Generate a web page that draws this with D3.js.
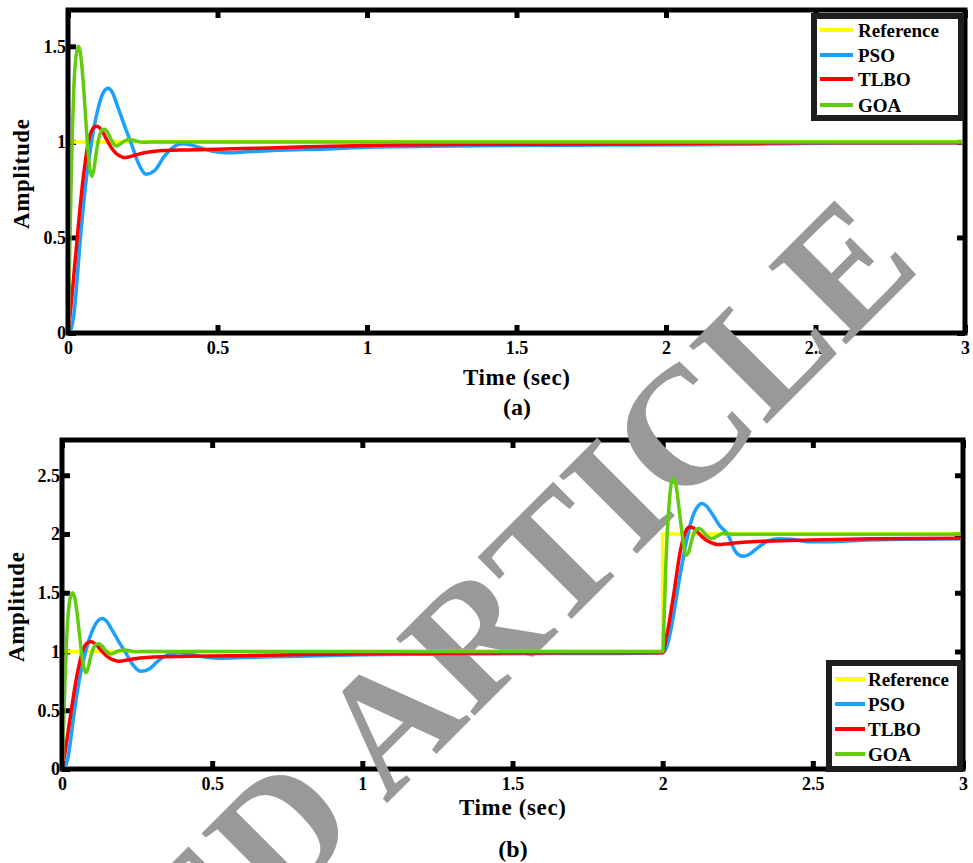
<!DOCTYPE html>
<html>
<head>
<meta charset="utf-8">
<script src="https://cdn.jsdelivr.net/npm/d3@7"></script>
<style>
  body { margin: 0; background: #fff; }
  text { font-family: "Liberation Serif", "Times New Roman", serif; font-weight: bold; }
</style>
</head>
<body>
<div id="chart"></div>
<script>
// tick values
var xTicks = [0, 0.5, 1, 1.5, 2, 2.5, 3];
var yTicksA = [0, 0.5, 1, 1.5];
var yTicksB = [0, 0.5, 1, 1.5, 2, 2.5];

var seriesNames = ["Reference", "PSO", "TLBO", "GOA"];
var seriesColors = ["#ffff00", "#1aa0ff", "#ff0000", "#62cc10"];

// (a) unit step responses, [time, amplitude]
var refA = [[0, 0], [0, 1], [3, 1]];
var psoA = [[0, 0], [0.01, 0.02], [0.02, 0.1], [0.03, 0.27], [0.04, 0.47], [0.05, 0.64], [0.06, 0.79],
    [0.07, 0.91], [0.08, 1.01], [0.09, 1.1], [0.1, 1.17], [0.112, 1.235], [0.122, 1.268], [0.134, 1.28],
    [0.148, 1.26], [0.165, 1.19], [0.19, 1.08], [0.212, 0.99], [0.235, 0.89], [0.262, 0.831], [0.29, 0.85],
    [0.32, 0.92], [0.35, 0.97], [0.385, 0.99], [0.43, 0.975], [0.48, 0.952], [0.53, 0.943], [0.6, 0.948],
    [0.7, 0.956], [0.86, 0.963], [1.0, 0.972], [1.2, 0.977], [1.47, 0.981], [1.8, 0.983], [2.1, 0.985],
    [2.35, 0.99], [2.6, 0.994], [3, 0.995]];
var tlboA = [[0, 0], [0.01, 0.14], [0.02, 0.31], [0.031, 0.5], [0.04, 0.65], [0.05, 0.8], [0.06, 0.92],
    [0.068, 1.0], [0.078, 1.055], [0.088, 1.078], [0.096, 1.082], [0.105, 1.075], [0.115, 1.055], [0.13, 1.01],
    [0.145, 0.97], [0.16, 0.94], [0.175, 0.925], [0.187, 0.918], [0.2, 0.92], [0.23, 0.933], [0.26, 0.944],
    [0.307, 0.953], [0.4, 0.958], [0.5, 0.962], [0.64, 0.967], [0.8, 0.975], [1.08, 0.984], [1.47, 0.988],
    [1.96, 0.99], [2.2, 0.994], [3, 0.996]];
var goaA = [[0, 0], [0.005, 0.35], [0.01, 0.75], [0.015, 1.08], [0.02, 1.3], [0.027, 1.45], [0.035, 1.5],
    [0.042, 1.46], [0.05, 1.33], [0.058, 1.15], [0.066, 0.97], [0.073, 0.86], [0.079, 0.82], [0.086, 0.85],
    [0.095, 0.95], [0.105, 1.03], [0.115, 1.063], [0.123, 1.066], [0.132, 1.05], [0.145, 1.01], [0.155, 0.985],
    [0.163, 0.978], [0.175, 0.99], [0.19, 1.006], [0.207, 1.012], [0.225, 1.006], [0.25, 0.998], [0.3, 1.0],
    [3, 1.0]];

// (b) second step at t = 2, part after the step
var refStepB = [[0, 0], [0, 1], [2, 1], [2, 2], [3, 2]];
var psoStepB = [[2, 0.99], [2.01, 1.02], [2.02, 1.1], [2.03, 1.22], [2.04, 1.37], [2.05, 1.53], [2.06, 1.68],
    [2.07, 1.82], [2.08, 1.95], [2.09, 2.06], [2.1, 2.15], [2.113, 2.22], [2.13, 2.26], [2.145, 2.24],
    [2.165, 2.17], [2.19, 2.07], [2.218, 1.99], [2.24, 1.86], [2.255, 1.82], [2.269, 1.81], [2.29, 1.83],
    [2.32, 1.89], [2.35, 1.94], [2.39, 1.96], [2.43, 1.955], [2.49, 1.935], [2.56, 1.935], [2.65, 1.945],
    [2.8, 1.955], [3, 1.96]];
var tlboStepB = [[2, 0.99], [2.01, 1.1], [2.02, 1.22], [2.03, 1.38], [2.037, 1.49], [2.045, 1.63], [2.055, 1.8],
    [2.06, 1.87], [2.07, 1.975], [2.08, 2.04], [2.09, 2.06], [2.1, 2.055], [2.115, 2.02], [2.13, 1.98],
    [2.15, 1.94], [2.17, 1.918], [2.185, 1.91], [2.2, 1.912], [2.23, 1.92], [2.27, 1.93], [2.35, 1.94],
    [2.5, 1.95], [2.7, 1.96], [3, 1.965]];
var goaStepB = [[2, 1.0], [2.005, 1.3], [2.01, 1.7], [2.015, 2.0], [2.02, 2.2], [2.028, 2.42], [2.036, 2.472],
    [2.044, 2.42], [2.052, 2.27], [2.06, 2.1], [2.068, 1.94], [2.078, 1.82], [2.086, 1.84], [2.095, 1.93],
    [2.105, 2.01], [2.114, 2.04], [2.122, 2.047], [2.13, 2.035], [2.145, 1.99], [2.163, 1.962], [2.18, 1.98],
    [2.2, 2.004], [2.22, 2.0], [2.25, 1.997], [3, 1.997]];

// before t = 2 panel (b) repeats panel (a)
function before2(arr) { return arr.filter(d => d[0] < 2); }
var psoB = before2(psoA).concat(psoStepB);
var tlboB = before2(tlboA).concat(tlboStepB);
var goaB = before2(goaA).concat(goaStepB);

var svg = d3.select("#chart").append("svg")
    .attr("width", 973)
    .attr("height", 863)
    .style("display", "block");

svg.append("rect").attr("width", 973).attr("height", 863).attr("fill", "#fff");

var panels = [
    {id: "a", left: 68, right: 965, top: 10, bottom: 333, yMax: 1.69, yTicks: yTicksA,
     series: [refA, psoA, tlboA, goaA],
     ampX: 29, ampY: 174, timeY: 385, cap: "(a)", capY: 415, capX: 517,
     legend: {x: 814, y: 16, w: 147, h: 102, lx0: 820, lx1: 853, tx: 858, rows: [30, 55, 79, 105]}},
    {id: "b", left: 62, right: 963, top: 440, bottom: 769, yMax: 2.8, yTicks: yTicksB,
     series: [refStepB, psoB, tlboB, goaB],
     ampX: 24, ampY: 607, timeY: 815, cap: "(b)", capY: 857, capX: 513,
     legend: {x: 829, y: 663, w: 131, h: 106, lx0: 835, lx1: 865, tx: 868, rows: [679, 704, 729, 754]}}
];

panels.forEach(function(p) {
    p.x = d3.scaleLinear().domain([0, 3]).range([p.left, p.right]);
    p.y = d3.scaleLinear().domain([0, p.yMax]).range([p.bottom, p.top]);
});

// axes
panels.forEach(function(p) {
    var g = svg.append("g");

    var bottomAxis = d3.axisBottom(p.x).tickValues(xTicks).tickSize(-8).tickPadding(8)
        .tickFormat(d3.format("~g"));
    var topAxis = d3.axisTop(p.x).tickValues(xTicks).tickSize(-8).tickFormat("");
    var leftAxis = d3.axisLeft(p.y).tickValues(p.yTicks).tickSize(-8).tickPadding(2)
        .tickFormat(d3.format("~g"));
    var rightAxis = d3.axisRight(p.y).tickValues(p.yTicks).tickSize(-8).tickFormat("");

    [[bottomAxis, "translate(0," + p.bottom + ")"],
     [topAxis, "translate(0," + p.top + ")"],
     [leftAxis, "translate(" + p.left + ",0)"],
     [rightAxis, "translate(" + p.right + ",0)"]].forEach(function(a) {
        var ag = g.append("g").attr("transform", a[1]).call(a[0]);
        ag.select(".domain").remove();
        ag.selectAll(".tick line").attr("stroke", "#000").attr("stroke-width", 5);
        ag.selectAll(".tick text")
            .attr("fill", "#000")
            .style("font-size", "18px")
            .style("font-family", "'Liberation Serif', serif")
            .style("font-weight", "bold");
    });

    g.append("rect")
        .attr("x", p.left).attr("y", p.top)
        .attr("width", p.right - p.left).attr("height", p.bottom - p.top)
        .attr("fill", "none").attr("stroke", "#000").attr("stroke-width", 5);

    g.append("text")
        .attr("transform", "translate(" + p.ampX + "," + p.ampY + ") rotate(-90)")
        .attr("text-anchor", "middle")
        .style("font-size", "23px")
        .attr("textLength", 110)
        .text("Amplitude");

    g.append("text")
        .attr("x", (p.left + p.right) / 2).attr("y", p.timeY)
        .attr("text-anchor", "middle")
        .style("font-size", "23px")
        .attr("textLength", 107)
        .text("Time (sec)");

    g.append("text")
        .attr("x", p.capX).attr("y", p.capY)
        .attr("text-anchor", "middle")
        .style("font-size", "24px")
        .text(p.cap);
});

// watermark
svg.append("text")
    .attr("transform", "translate(884,228) rotate(-45)")
    .attr("text-anchor", "end")
    .attr("dy", "0.33em")
    .attr("fill", "#999999")
    .style("font-size", "168px")
    .text("RETRACTED ARTICLE");

// curves
var line = d3.line().curve(d3.curveMonotoneX);

panels.forEach(function(p) {
    svg.append("clipPath").attr("id", "clip-" + p.id)
        .append("rect")
        .attr("x", p.left + 2.5).attr("y", p.top + 2.5)
        .attr("width", p.right - p.left - 5).attr("height", p.bottom - p.top - 5);

    var g = svg.append("g").attr("clip-path", "url(#clip-" + p.id + ")");
    p.series.forEach(function(s, i) {
        var gen = i === 0 ? d3.line() : line;
        gen.x(d => p.x(d[0])).y(d => p.y(d[1]));
        g.append("path")
            .datum(s)
            .attr("fill", "none")
            .attr("stroke", seriesColors[i])
            .attr("stroke-width", 3.5)
            .attr("stroke-linejoin", "round")
            .attr("d", gen);
    });

    // legend
    var L = p.legend;
    var lg = svg.append("g");
    lg.append("rect")
        .attr("x", L.x).attr("y", L.y).attr("width", L.w).attr("height", L.h)
        .attr("fill", "#fff").attr("stroke", "#1e1e1e").attr("stroke-width", 6);
    seriesNames.forEach(function(name, i) {
        lg.append("line")
            .attr("x1", L.lx0).attr("x2", L.lx1)
            .attr("y1", L.rows[i]).attr("y2", L.rows[i])
            .attr("stroke", seriesColors[i]).attr("stroke-width", 4);
        lg.append("text")
            .attr("x", L.tx).attr("y", L.rows[i] + 7)
            .style("font-size", "19px")
            .text(name);
    });
});
</script>
</body>
</html>
